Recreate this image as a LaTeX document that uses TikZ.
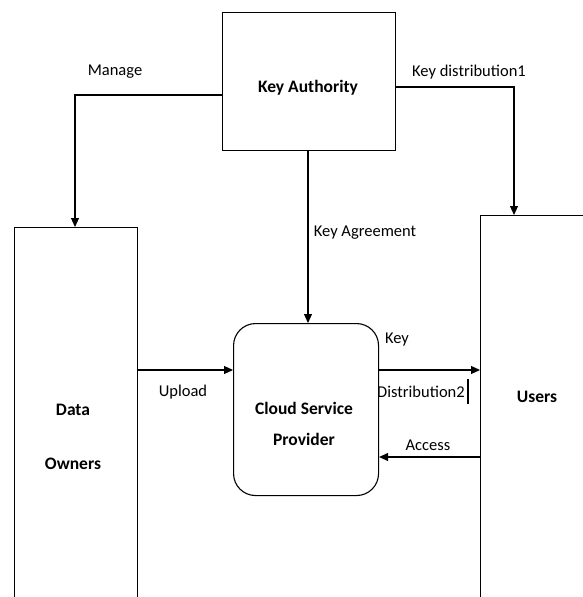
\documentclass[tikz,border=0pt]{standalone}
\usepackage{fontspec}
\setmainfont{Carlito}
\usetikzlibrary{arrows.meta}
\begin{document}
\begin{tikzpicture}[x=1pt,y=-1pt,
  box/.style={draw,line width=1.1pt,inner sep=0pt,anchor=north west},
  conn/.style={line width=1.1pt,-{Triangle[length=9pt,width=8pt]}},
  lbl/.style={font=\fontsize{16.5}{19}\selectfont},
  title/.style={font=\bfseries\fontsize{17.5}{20}\selectfont,align=center}]
\useasboundingbox (0,0) rectangle (583,597);
\begin{scope}
\clip (0,0) rectangle (583,597);
% boxes
\node[box,minimum width=173pt,minimum height=138pt] (ka) at (222,12) {};
\node[title] at (308,88) {Key Authority};
\node[box,minimum width=123pt,minimum height=375pt] (do) at (14,227) {};
\node[title] at (73,410) {Data};
\node[title] at (73,464) {Owners};
\node[box,minimum width=120pt,minimum height=390pt] (us) at (480,215) {};
\node[title] at (537,397) {Users};
\node[box,rounded corners=22pt,minimum width=145pt,minimum height=172pt] (csp) at (233,323) {};
\node[title,font=\bfseries\fontsize{17.5}{31}\selectfont] at (304,424) {Cloud Service\\Provider};
% connectors
\coordinate (mg) at (75,95);
\coordinate (kd) at (514,87);
\coordinate (ag) at (308,0);
\draw[conn] (ka.west |- mg) -- (mg) -- (mg |- do.north);
\draw[conn] (ka.east |- kd) -- (kd) -- (kd |- us.north);
\draw[conn] (ag |- ka.south) -- (ag |- csp.north);
\draw[conn] (do.east |- 0,370) -- (csp.west |- 0,370);
\draw[conn] (csp.east |- 0,370) -- (us.west |- 0,370);
\draw[conn] (us.west |- 0,457) -- (csp.east |- 0,457);
% labels
\node[lbl] (lmg) at (115,72) {Manage};
\node[lbl] (lkd) at (469,72) {Key distribution1};
\node[lbl] (lka) at (365,233) {Key Agreement};
\node[lbl] (lup) at (183,392) {Upload};
\node[lbl] (lk2) at (397,340) {Key};
\node[lbl] (ld2) at (421,392) {Distribution2};
\node[lbl] (lac) at (428,445) {Access};
\draw[line width=1.8pt] (468,379) -- (468,404);
\end{scope}
\end{tikzpicture}
\end{document}
